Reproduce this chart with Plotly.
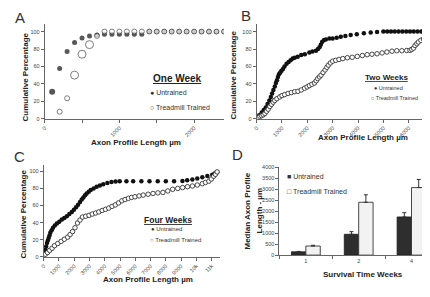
import plotly.graph_objects as go

# ---------------- DATA ----------------
# Panel A: One week (cumulative %)
A_untrained_x = [100, 200, 300, 400, 500, 600, 700, 800, 900, 1000, 1100, 1200, 1300, 1400,
                 1500, 1600, 1700, 1800, 1900, 2000, 2100, 2200, 2300, 2400]
A_untrained_y = [31, 57.5, 77, 87.5, 92.5, 95, 96, 97, 97, 97, 97, 97, 97, 100,
                 100, 100, 100, 100, 100, 100, 100, 100, 100, 100]
A_trained_x = [200, 300, 400, 500, 600, 700, 800, 900, 1000, 1100, 1200, 1300, 1400,
               1500, 1600, 1700, 1800, 1900, 2000, 2100, 2200, 2300, 2400]
A_trained_y = [8, 23.5, 50, 74, 85, 95, 100, 100, 100, 100, 100, 100, 100,
               100, 100, 100, 100, 100, 100, 100, 100, 100, 100]

# Panel B: Two weeks
B_untrained_x = [0, 100, 200, 280, 360, 430, 500, 560, 610, 660, 715, 760, 800, 840, 880, 930,
                 980, 1040, 1100, 1180, 1260, 1340, 1420, 1500, 1620, 1760, 1900, 2080, 2200,
                 2340, 2420, 2480, 2530, 2580, 2650, 2730, 2870, 3000, 3160, 3320, 3500, 3710,
                 3950, 4230, 4500, 4750, 5000, 5150, 5300, 5450, 5600, 5750, 5900, 6050, 6200,
                 6350, 6500, 6650, 6800]
B_untrained_y = [1, 4, 7, 10, 13, 17, 21, 25, 29, 33, 37, 41, 44, 48, 51, 53,
                 55, 57, 60, 63, 65, 67, 69, 70, 71, 73, 74, 76, 77,
                 78, 80, 82, 85, 88, 90, 91, 92, 92, 93, 94, 95, 96,
                 97, 98, 99, 99.5, 100, 100, 100, 100, 100, 100, 100, 100, 100,
                 100, 100, 100, 100]
B_trained_x = [0, 65, 130, 195, 260, 325, 390, 455, 520, 585, 650, 715, 800, 910, 1000, 1105,
               1240, 1370, 1500, 1630, 1760, 1890, 1990, 2080, 2180, 2280, 2350, 2410, 2480,
               2540, 2620, 2700, 2770, 2830, 2910, 3000, 3120, 3250, 3400, 3580, 3770, 3970,
               4170, 4360, 4550, 4750, 4950, 5140, 5340, 5530, 5730, 5920, 6050, 6120, 6190,
               6250, 6320, 6380, 6480, 6580, 6680, 6770, 6820]
B_trained_y = [0.5, 1.5, 2.5, 3.5, 4.5, 6, 8.5, 11, 14, 16.5, 19, 21, 23, 25, 26.5, 27.7,
               29, 30, 31, 31.5, 33, 35, 36.5, 38, 39.5, 41, 43.5, 46, 48,
               50, 53, 56, 59, 61.5, 64, 66, 67, 68, 69, 70, 70.5, 71.5,
               72.5, 73.5, 74, 74.5, 75.5, 76.5, 77.5, 78, 78, 78.3, 78.5, 79.5, 81,
               84, 86, 88, 90, 91.5, 93, 95, 97]

# Panel C: Four weeks
C_untrained_x = [0, 50, 110, 160, 215, 270, 325, 380, 435, 520, 610, 730, 865, 1020, 1190,
                 1350, 1515, 1680, 1840, 1980, 2120, 2250, 2380, 2490, 2600, 2710, 2815, 2950,
                 3080, 3270, 3470, 3680, 3900, 4170, 4440, 4710, 4980, 5420, 5860, 6400, 6930,
                 7470, 8000, 8540, 9090, 9400, 9740, 10060, 10390, 10720, 11040, 11200, 11360]
C_untrained_y = [1, 4, 8, 12, 16, 19, 22, 25, 28, 31, 34, 36.5, 39, 41, 43.5,
                 45.5, 47.5, 50, 52.5, 55, 58, 61, 64, 67, 69.5, 72, 74, 76,
                 78, 80, 82, 83.5, 85, 86.3, 87.4, 88, 88.5, 88.5, 88.5, 88.5, 88.5,
                 88.5, 88.5, 88.5, 88.7, 89.5, 90.4, 91.5, 93, 94.5, 96, 97.5, 99]
C_trained_x = [0, 110, 250, 390, 550, 710, 920, 1140, 1350, 1570, 1730, 1890, 2050, 2215,
               2380, 2540, 2750, 2970, 3180, 3400, 3610, 3830, 4050, 4260, 4480, 4690, 4900,
               5120, 5330, 5550, 5760, 5980, 6250, 6520, 6840, 7160, 7480, 7810, 8130, 8450,
               8780, 9100, 9420, 9740, 10060, 10390, 10600, 10820, 10980, 11140, 11250, 11360]
C_trained_y = [1, 3, 5, 7.5, 10, 13, 15.5, 18, 20.5, 23, 26, 29.5, 34, 39.5,
               43, 46.5, 47.5, 48.5, 50, 51.2, 52.5, 54.2, 55.5, 57, 59, 60.7, 63,
               65.5, 67, 68.4, 69.5, 70.2, 71.2, 72.2, 73.2, 74.1, 74.8, 75.3, 77, 79,
               80, 81, 82, 82.8, 84, 85.5, 87, 88.5, 91, 94.3, 96.5, 99.3]

# Panel D: median axon profile length
D_weeks = ["1", "2", "4"]
D_untrained = [150, 950, 1740]
D_untrained_err = [20, 120, 195]
D_trained = [415, 2410, 3080]
D_trained_err = [35, 340, 370]

# ---------------- STYLE ----------------
FONT = "Liberation Sans, Arial, sans-serif"
PAGE_OFF = 8                      # default body margin of the html page
W, H = 430 - PAGE_OFF, 297 - PAGE_OFF
DARK = "#222222"
AXC = "#666666"
TICKC = "#444444"


def px(x):
    return (x - PAGE_OFF) / W


def py(y):
    return 1 - (y - PAGE_OFF) / H


fig = go.Figure()

filled = dict(symbol="circle", color="#111111", line=dict(width=0))
opened = dict(symbol="circle", color="white", line=dict(color="#333333", width=0.9))

A_untr_size = [6] + [5] * (len(A_untrained_x) - 1)
A_tr_size = [5, 5, 8, 8, 8, 5] + [5] * (len(A_trained_x) - 6)

fig.add_trace(go.Scatter(x=A_untrained_x, y=A_untrained_y, mode="markers", xaxis="x", yaxis="y",
                         marker=dict(size=A_untr_size, **filled), name="Untrained"))
fig.add_trace(go.Scatter(x=A_trained_x, y=A_trained_y, mode="markers", xaxis="x", yaxis="y",
                         marker=dict(size=A_tr_size, **opened), name="Treadmill Trained"))

fig.add_trace(go.Scatter(x=B_untrained_x, y=B_untrained_y, mode="markers", xaxis="x2", yaxis="y2",
                         marker=dict(size=4.5, **filled), name="Untrained"))
fig.add_trace(go.Scatter(x=B_trained_x, y=B_trained_y, mode="markers", xaxis="x2", yaxis="y2",
                         marker=dict(size=4.5, **opened), name="Treadmill Trained"))

fig.add_trace(go.Scatter(x=C_untrained_x, y=C_untrained_y, mode="markers", xaxis="x3", yaxis="y3",
                         marker=dict(size=4.5, **filled), name="Untrained"))
fig.add_trace(go.Scatter(x=C_trained_x, y=C_trained_y, mode="markers", xaxis="x3", yaxis="y3",
                         marker=dict(size=4.5, **opened), name="Treadmill Trained"))

fig.add_trace(go.Bar(x=D_weeks, y=D_untrained, xaxis="x4", yaxis="y4", name="Untrained",
                     marker=dict(color="#2e2e2e", line=dict(color="#1a1a1a", width=0.8)),
                     error_y=dict(type="data", symmetric=False, array=D_untrained_err,
                                  arrayminus=[0] * len(D_untrained_err),
                                  color="#333333", thickness=1, width=2)))
fig.add_trace(go.Bar(x=D_weeks, y=D_trained, xaxis="x4", yaxis="y4", name="Treadmill Trained",
                     marker=dict(color="#f2f2f2", line=dict(color="#333333", width=0.9)),
                     error_y=dict(type="data", symmetric=False, array=D_trained_err,
                                  arrayminus=[0] * len(D_trained_err),
                                  color="#333333", thickness=1, width=2)))

common = dict(showline=True, linecolor=AXC, linewidth=1, showgrid=False, zeroline=False,
              ticks="outside", ticklen=3, tickcolor=AXC, tickwidth=1,
              tickfont=dict(size=5.5, color=TICKC, family=FONT))

yA_dom = [py(118), py(21)]
yC_dom = [py(259), py(165)]

fig.update_layout(
    width=W, height=H, margin=dict(l=0, r=0, t=0, b=0),
    paper_bgcolor="white", plot_bgcolor="white", showlegend=False,
    font=dict(family=FONT, color=DARK),
    barmode="group", bargap=0.455, bargroupgap=0,
    xaxis=dict(domain=[px(41), px(222)], range=[0, 2400], anchor="y",
               tickvals=[0, 500, 1000, 1500, 2000], ticktext=["0", "", "1000", "", "2000"],
               tickangle=-45, **common),
    yaxis=dict(domain=yA_dom, range=[0, 109], anchor="x", tickvals=[0, 20, 40, 60, 80, 100], **common),
    xaxis2=dict(domain=[px(255), 1.0], range=[0, 6840], anchor="y2",
                tickvals=[0, 1000, 2000, 3000, 4000, 5000, 6000], tickangle=-45, **common),
    yaxis2=dict(domain=yA_dom, range=[0, 109], anchor="x2", tickvals=[0, 20, 40, 60, 80, 100], **common),
    xaxis3=dict(domain=[px(40), px(218)], range=[0, 11550], anchor="y3",
                tickvals=list(range(0, 12000, 1000)), tickangle=-45, **common),
    yaxis3=dict(domain=yC_dom, range=[0, 107.7], anchor="x3", tickvals=[0, 20, 40, 60, 80, 100], **common),
    xaxis4=dict(domain=[px(278), 1.0], type="category", range=[-0.5, 2.35], anchor="y4",
                tickson="boundaries", **common),
    yaxis4=dict(domain=[py(257.3), py(167.7)], range=[0, 4000], anchor="x4", dtick=500, **common),
)


def ann(text, x, y, size, bold=False, xanchor="center", angle=0, color=DARK):
    t = f"<b>{text}</b>" if bold else text
    fig.add_annotation(text=t, x=px(x), y=py(y), xref="paper", yref="paper",
                       xanchor=xanchor, yanchor="middle", showarrow=False, textangle=angle,
                       font=dict(size=size, family=FONT, color=color))


# panel letters
ann("A", 16, 15, 15, color="#333333")
ann("B", 244, 13, 15, color="#333333")
ann("C", 16, 157, 15, color="#333333")
ann("D", 236, 155, 15, color="#333333")

# axis titles
ann("Cumulative Percentage", 22, 75, 8, bold=True, angle=-90)
ann("Axon Profile Length µm", 133, 142, 8, bold=True)
ann("Cumulative Percentage", 232, 73, 8, bold=True, angle=-90)
ann("Axon Profile Length µm", 362, 137, 8, bold=True)
ann("Cumulative Percentage", 20, 215, 8, bold=True, angle=-90)
ann("Axon Profile Length µm", 145, 282, 8, bold=True)
ann("Median Axon Profile", 246, 212, 8, bold=True, angle=-90)
ann("Length - µm", 258, 212, 8, bold=True, angle=-90)
ann("Survival Time Weeks", 362, 277, 8, bold=True)

# legends
ann("<u>One Week</u>", 175, 77, 10, bold=True)
ann("● Untrained", 145, 91, 7, xanchor="left", color="#333333")
ann("○ Treadmill Trained", 145, 107, 7, xanchor="left", color="#333333")

ann("<u>Two Weeks</u>", 386, 76, 8, bold=True)
ann("● Untrained", 371, 87, 5.5, xanchor="left", color="#333333")
ann("○ Treadmill Trained", 368, 97, 5.5, xanchor="left", color="#333333")

ann("<u>Four Weeks</u>", 165, 221, 8.5, bold=True)
ann("● Untrained", 146, 231, 6, xanchor="left", color="#333333")
ann("○ Treadmill Trained", 145, 242, 6, xanchor="left", color="#333333")

ann("■ Untrained", 284, 177, 7, xanchor="left", color="#333333")
ann("□ Treadmill Trained", 284, 192, 7, xanchor="left", color="#333333")

fig.write_html("out.html")
